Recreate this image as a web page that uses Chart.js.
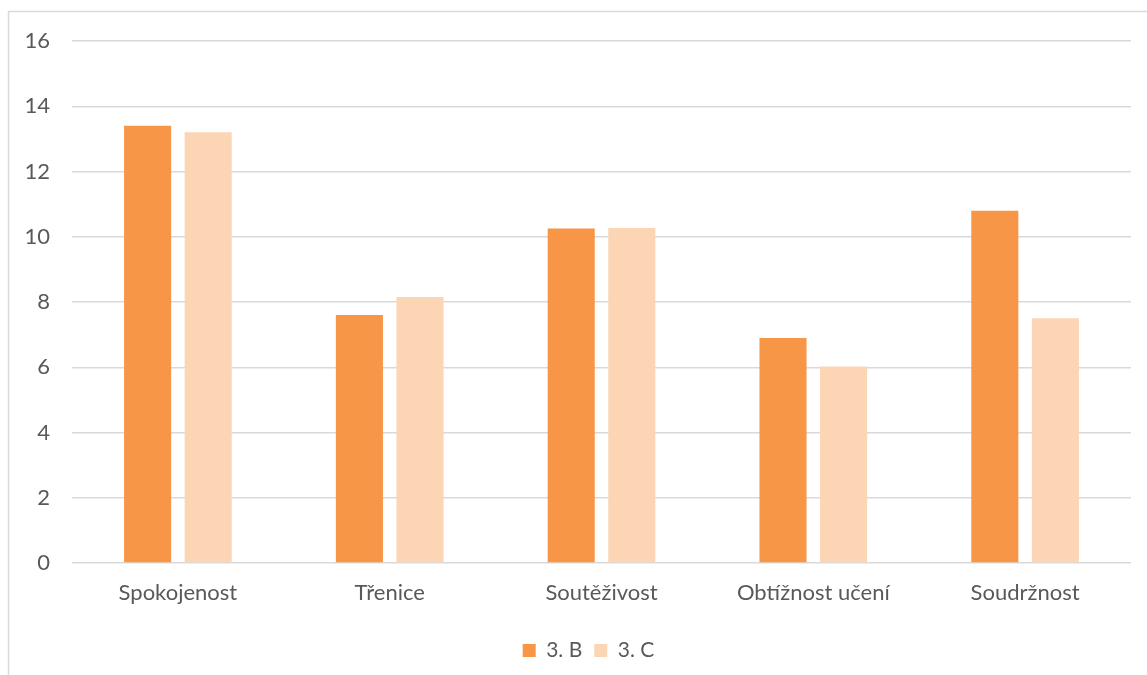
<!DOCTYPE html>
<html>
<head>
<meta charset="utf-8">
<script src="https://cdn.jsdelivr.net/npm/chart.js@4.4.0/dist/chart.umd.min.js"></script>
<style>
  html, body { margin: 0; padding: 0; background: #fff; }
  #wrap { width: 1147px; height: 675px; position: relative; }
</style>
</head>
<body>
<div id="wrap"><canvas id="c" width="1147" height="675"></canvas></div>
<script>
const categories = ['Spokojenost', 'Třenice', 'Soutěživost', 'Obtížnost učení', 'Soudržnost'];
const series3B = [13.4, 7.6, 10.25, 6.9, 10.8];
const series3C = [13.2, 8.15, 10.27, 6.02, 7.5];
const yTicks = [0, 2, 4, 6, 8, 10, 12, 14, 16];

const FONT = 'Lato, "Open Sans", sans-serif';
const TEXT = '#595959';

// thin frame along the top and left edges
const framePlugin = {
  id: 'frame',
  beforeDraw(chart) {
    const ctx = chart.ctx;
    ctx.save();
    ctx.strokeStyle = '#d9d9d9';
    ctx.lineWidth = 1.5;
    ctx.beginPath();
    ctx.moveTo(8.5, 675);
    ctx.lineTo(8.5, 11.5);
    ctx.lineTo(1147, 11.5);
    ctx.stroke();
    ctx.restore();
  }
};

// centre the legend on the whole frame rather than the padded layout box
const legendShift = {
  id: 'legendShift',
  afterLayout(chart) {
    if (chart.legend) {
      chart.legend.left += 23;
      chart.legend.right += 23;
    }
  }
};

new Chart(document.getElementById('c'), {
  type: 'bar',
  data: {
    labels: categories,
    datasets: [
      { label: '3. B', data: series3B, backgroundColor: '#F79646' },
      { label: '3. C', data: series3C, backgroundColor: '#FCD5B4' }
    ]
  },
  options: {
    responsive: false,
    animation: false,
    categoryPercentage: 0.572,
    barPercentage: 0.777,
    layout: { padding: { left: 0, right: 16, top: 41, bottom: 4 } },
    plugins: {
      tooltip: { enabled: false },
      legend: {
        position: 'bottom',
        labels: {
          boxWidth: 13, boxHeight: 13,
          color: TEXT,
          font: { family: FONT, size: 21 },
          padding: 12
        }
      }
    },
    scales: {
      x: {
        grid: { display: false, drawTicks: false },
        border: { display: false },
        ticks: { color: TEXT, font: { family: FONT, size: 22 }, padding: 17 },
        afterFit(s) { s.height = 65; }
      },
      y: {
        min: 0, max: 16,
        afterBuildTicks(s) { s.ticks = yTicks.map(v => ({ value: v })); },
        grid: { color: '#d9d9d9', lineWidth: 1.5, drawTicks: false },
        border: { display: false },
        ticks: { color: TEXT, font: { family: FONT, size: 22 }, padding: 22 },
        afterFit(s) { s.width = 72; }
      }
    }
  },
  plugins: [framePlugin, legendShift]
});
</script>
</body>
</html>
